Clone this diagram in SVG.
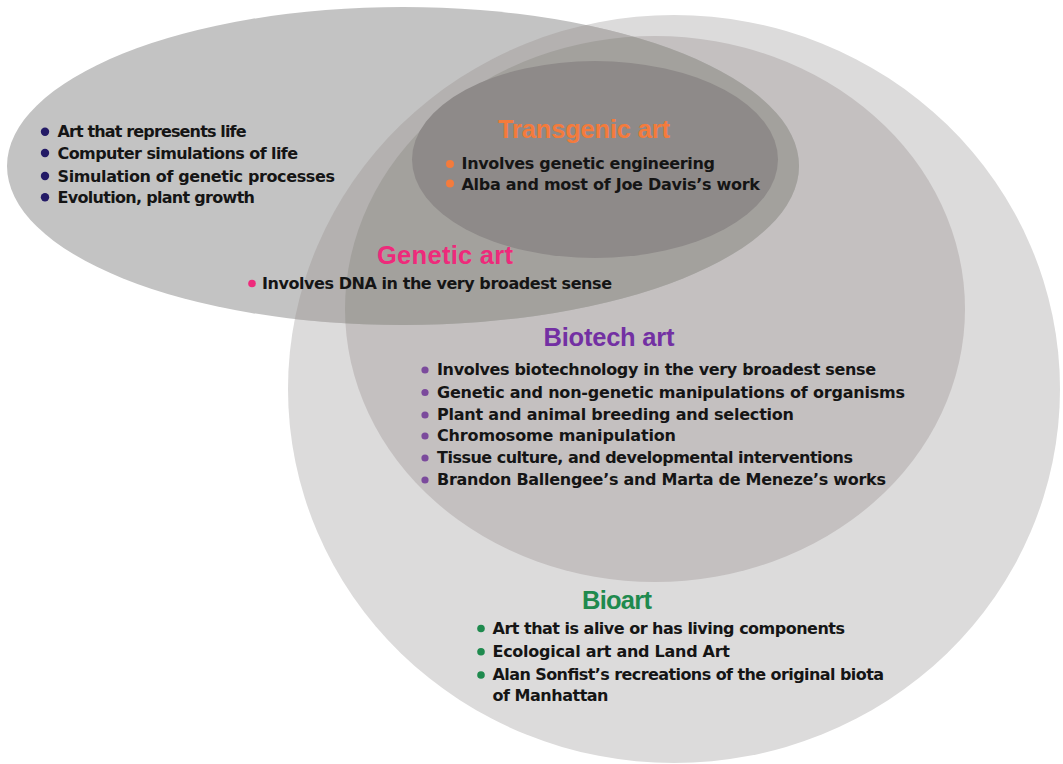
<svg xmlns="http://www.w3.org/2000/svg" width="1063" height="764" viewBox="0 0 1063 764">
<style>
.t{font-family:"DejaVu Sans","Liberation Sans",sans-serif;font-weight:bold;font-size:16px;fill:#151515}
.h{font-family:"Liberation Sans","DejaVu Sans",sans-serif;font-weight:bold;font-size:25.5px}
.orange{fill:#f47b3c}.pink{fill:#ee2a7b}.purple{fill:#7330a3}.green{fill:#1f8a4e}
.navy{fill:#231a66}.bpurple{fill:#7b4a9c}.bgreen{fill:#1f8a4e}
</style>
<defs>
<clipPath id="clipCircle"><ellipse cx="674" cy="389" rx="386" ry="374"/></clipPath>
<clipPath id="clipBiotech"><ellipse cx="655" cy="309" rx="310" ry="273"/></clipPath>
</defs>
<rect width="1063" height="764" fill="#ffffff"/>
<g id="bioart">
<ellipse cx="674" cy="389" rx="386" ry="374" fill="#dcdbdb"/>
<text class="h green" x="582" y="608.5" textLength="70">Bioart</text>
<circle class="bgreen" cx="481" cy="628.5" r="3.8"/>
<circle class="bgreen" cx="481" cy="651.7" r="3.8"/>
<circle class="bgreen" cx="481" cy="675" r="3.8"/>
<text class="t" x="492.5" y="633.5" textLength="352.5">Art that is alive or has living components</text>
<text class="t" x="492.5" y="656.7" textLength="237.5">Ecological art and Land Art</text>
<text class="t" x="492.5" y="680" textLength="391.5">Alan Sonfist’s recreations of the original biota</text>
<text class="t" x="492.5" y="701" textLength="116">of Manhattan</text>
</g>
<g id="biotech-art">
<ellipse cx="655" cy="309" rx="310" ry="273" fill="#c4c0c0"/>
<text class="h purple" x="543.5" y="346" textLength="131">Biotech art</text>
<circle class="bpurple" cx="425" cy="370" r="3.6"/>
<circle class="bpurple" cx="425" cy="392.5" r="3.6"/>
<circle class="bpurple" cx="425" cy="415" r="3.6"/>
<circle class="bpurple" cx="425" cy="436" r="3.6"/>
<circle class="bpurple" cx="425" cy="458" r="3.6"/>
<circle class="bpurple" cx="425" cy="480" r="3.6"/>
<text class="t" x="437" y="375" textLength="439">Involves biotechnology in the very broadest sense</text>
<text class="t" x="437" y="397.5" textLength="468">Genetic and non-genetic manipulations of organisms</text>
<text class="t" x="437" y="420" textLength="357">Plant and animal breeding and selection</text>
<text class="t" x="437" y="441" textLength="239">Chromosome manipulation</text>
<text class="t" x="437" y="463" textLength="416">Tissue culture, and developmental interventions</text>
<text class="t" x="437" y="485" textLength="449">Brandon Ballengee’s and Marta de Meneze’s works</text>
</g>
<g id="genetic-art">
<ellipse cx="403" cy="166" rx="396" ry="159" fill="#c3c3c3"/>
<ellipse cx="403" cy="166" rx="396" ry="159" fill="#b4b1b0" clip-path="url(#clipCircle)"/>
<ellipse cx="403" cy="166" rx="396" ry="159" fill="#a3a19d" clip-path="url(#clipBiotech)"/>
<circle class="navy" cx="45" cy="131.8" r="4.2"/>
<circle class="navy" cx="45" cy="153" r="4.2"/>
<circle class="navy" cx="45" cy="176" r="4.2"/>
<circle class="navy" cx="45" cy="197.2" r="4.2"/>
<text class="t" x="57.5" y="137.3" textLength="189">Art that represents life</text>
<text class="t" x="57.5" y="158.5" textLength="240.5">Computer simulations of life</text>
<text class="t" x="57.5" y="181.5" textLength="277.5">Simulation of genetic processes</text>
<text class="t" x="57.5" y="202.7" textLength="197.5">Evolution, plant growth</text>
<text class="h pink" x="377" y="263.5" textLength="136">Genetic art</text>
<circle class="pink" cx="252" cy="283.5" r="3.8"/>
<text class="t" x="262" y="288.5" textLength="350">Involves DNA in the very broadest sense</text>
</g>
<g id="transgenic-art">
<ellipse cx="595" cy="159.5" rx="183" ry="98.5" fill="#8e8a89"/>
<text class="h orange" x="498" y="138" textLength="172">Transgenic art</text>
<circle class="orange" cx="450" cy="164" r="4"/>
<circle class="orange" cx="450" cy="183.5" r="4"/>
<text class="t" x="461.5" y="169.3" textLength="253.5">Involves genetic engineering</text>
<text class="t" x="461.5" y="189.5" textLength="298.5">Alba and most of Joe Davis’s work</text>
</g>
<g id="connectors"/>
</svg>
